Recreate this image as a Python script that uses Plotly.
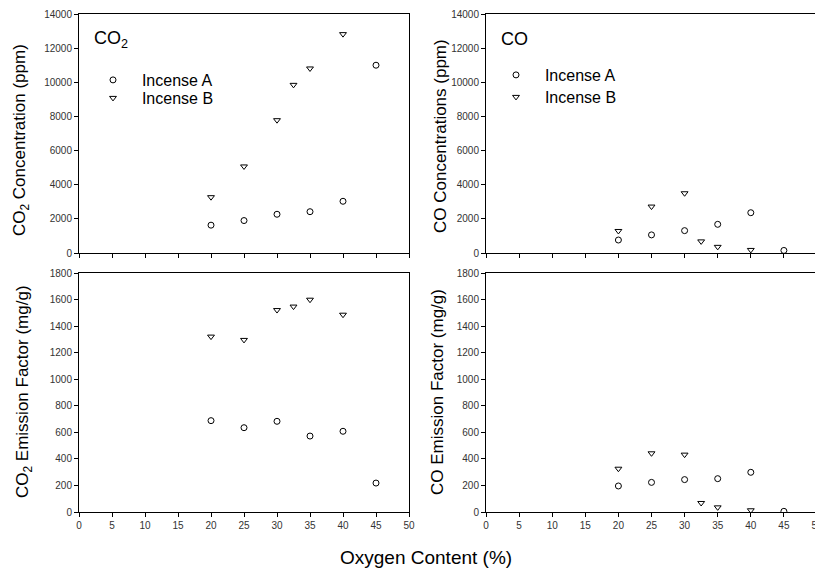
import plotly.graph_objects as go

W, H = 823, 571
OFF = 8  # page offset of the figure inside the browser window

# ---- data ----
oxygen_a = [20, 25, 30, 35, 40, 45]
oxygen_b = [20, 25, 30, 32.5, 35, 40]

co2_conc_a = [1630, 1900, 2270, 2420, 3030, 11000]
co2_conc_b = [3270, 5070, 7780, 9850, 10810, 12820]

co_conc_a = [760, 1060, 1310, 1680, 2360, 150]
co_conc_b = [1290, 2720, 3500, 680, 360, 180]

co2_ef_a = [688, 635, 683, 572, 608, 218]
co2_ef_b = [1321, 1296, 1521, 1547, 1599, 1486]

co_ef_a = [196, 223, 244, 251, 299, 5]
co_ef_b = [326, 442, 432, 68, 35, 13]

x_ticks = [0, 5, 10, 15, 20, 25, 30, 35, 40, 45, 50]
series_names = ["Incense A", "Incense B"]


def px(x):
    return (x - OFF) / W


def py(y):
    return 1 - (y - OFF) / H


FONT = "Liberation Sans, Arial, sans-serif"

fig = go.Figure()

marker_a = dict(symbol="circle", size=6, color="white", line=dict(color="black", width=1))
marker_b = dict(symbol="triangle-down", size=6, color="white", line=dict(color="black", width=1))

panels = [
    ("x", "y", co2_conc_a, co2_conc_b, "legend", "legend2"),
    ("x2", "y2", co_conc_a, co_conc_b, "legend3", "legend4"),
    ("x3", "y3", co2_ef_a, co2_ef_b, None, None),
    ("x4", "y4", co_ef_a, co_ef_b, None, None),
]
for xa, ya, va, vb, la, lb in panels:
    fig.add_trace(go.Scatter(
        x=oxygen_a, y=va, mode="markers", marker=marker_a, xaxis=xa, yaxis=ya,
        name="&nbsp;&nbsp;" + series_names[0], showlegend=la is not None,
        legend=la or "legend"))
    fig.add_trace(go.Scatter(
        x=oxygen_b, y=vb, mode="markers", marker=marker_b, xaxis=xa, yaxis=ya,
        name="&nbsp;&nbsp;" + series_names[1], showlegend=lb is not None,
        legend=lb or "legend"))

xdom_l = [px(79), px(409)]
xdom_r = [px(486), px(817)]
ydom_t = [py(253), py(14)]
ydom_b = [py(512), py(273)]

common_x = dict(range=[0, 50], tickvals=x_ticks, ticks="outside", ticklen=4, tickwidth=1,
                tickcolor="black", showline=True, linecolor="black", linewidth=1, mirror=True,
                showgrid=False, zeroline=False, automargin=False,
                tickfont=dict(family=FONT, size=10, color="#333333"))
common_y = dict(ticks="outside", ticklen=4, tickwidth=1, tickcolor="black", showline=True,
                linecolor="black", linewidth=1, mirror=True, showgrid=False, zeroline=False,
                automargin=False, tickformat="d",
                tickfont=dict(family=FONT, size=10, color="#333333"))

legend_common = dict(font=dict(family=FONT, size=16, color="black"), bgcolor="rgba(0,0,0,0)",
                     borderwidth=0, xanchor="left", yanchor="middle", tracegroupgap=0)

fig.update_layout(
    template="none",
    width=W, height=H,
    margin=dict(l=0, r=0, t=0, b=0, pad=0, autoexpand=False),
    paper_bgcolor="white", plot_bgcolor="white",
    font=dict(family=FONT, color="black"),
    xaxis=dict(domain=xdom_l, anchor="y", showticklabels=False, **common_x),
    yaxis=dict(domain=ydom_t, anchor="x", range=[0, 14000], dtick=2000, **common_y),
    xaxis2=dict(domain=xdom_r, anchor="y2", showticklabels=False, **common_x),
    yaxis2=dict(domain=ydom_t, anchor="x2", range=[0, 14000], dtick=2000, **common_y),
    xaxis3=dict(domain=xdom_l, anchor="y3", **common_x),
    yaxis3=dict(domain=ydom_b, anchor="x3", range=[0, 1800], dtick=200, **common_y),
    xaxis4=dict(domain=xdom_r, anchor="y4", **common_x),
    yaxis4=dict(domain=ydom_b, anchor="x4", range=[0, 1800], dtick=200, **common_y),
    legend=dict(x=px(93), y=py(80), **legend_common),
    legend2=dict(x=px(93), y=py(98), **legend_common),
    legend3=dict(x=px(496), y=py(75), **legend_common),
    legend4=dict(x=px(496), y=py(97), **legend_common),
)

ann = []
ann.append(dict(text="CO<sub>2</sub>", x=px(92), y=py(39), xref="paper", yref="paper",
                xanchor="left", yanchor="middle", showarrow=False,
                font=dict(family=FONT, size=18, color="black")))
ann.append(dict(text="CO", x=px(499), y=py(39), xref="paper", yref="paper",
                xanchor="left", yanchor="middle", showarrow=False,
                font=dict(family=FONT, size=18, color="black")))
ann.append(dict(text="Oxygen Content (%)", x=px(426), y=py(557), xref="paper", yref="paper",
                xanchor="center", yanchor="middle", showarrow=False,
                font=dict(family=FONT, size=19, color="black")))
ytitles = [
    ("CO<sub>2</sub> Concentration (ppm)", 21, 140),
    ("CO Concentrations (ppm)", 440, 136),
    ("CO<sub>2</sub> Emission Factor (mg/g)", 24, 392),
    ("CO Emission Factor (mg/g)", 437, 392),
]
for t, xx, yy in ytitles:
    ann.append(dict(text=t, x=px(xx), y=py(yy), xref="paper", yref="paper",
                    xanchor="center", yanchor="middle", textangle=-90, showarrow=False,
                    font=dict(family=FONT, size=17, color="black")))
fig.update_layout(annotations=ann)

fig.write_html("out.html")
